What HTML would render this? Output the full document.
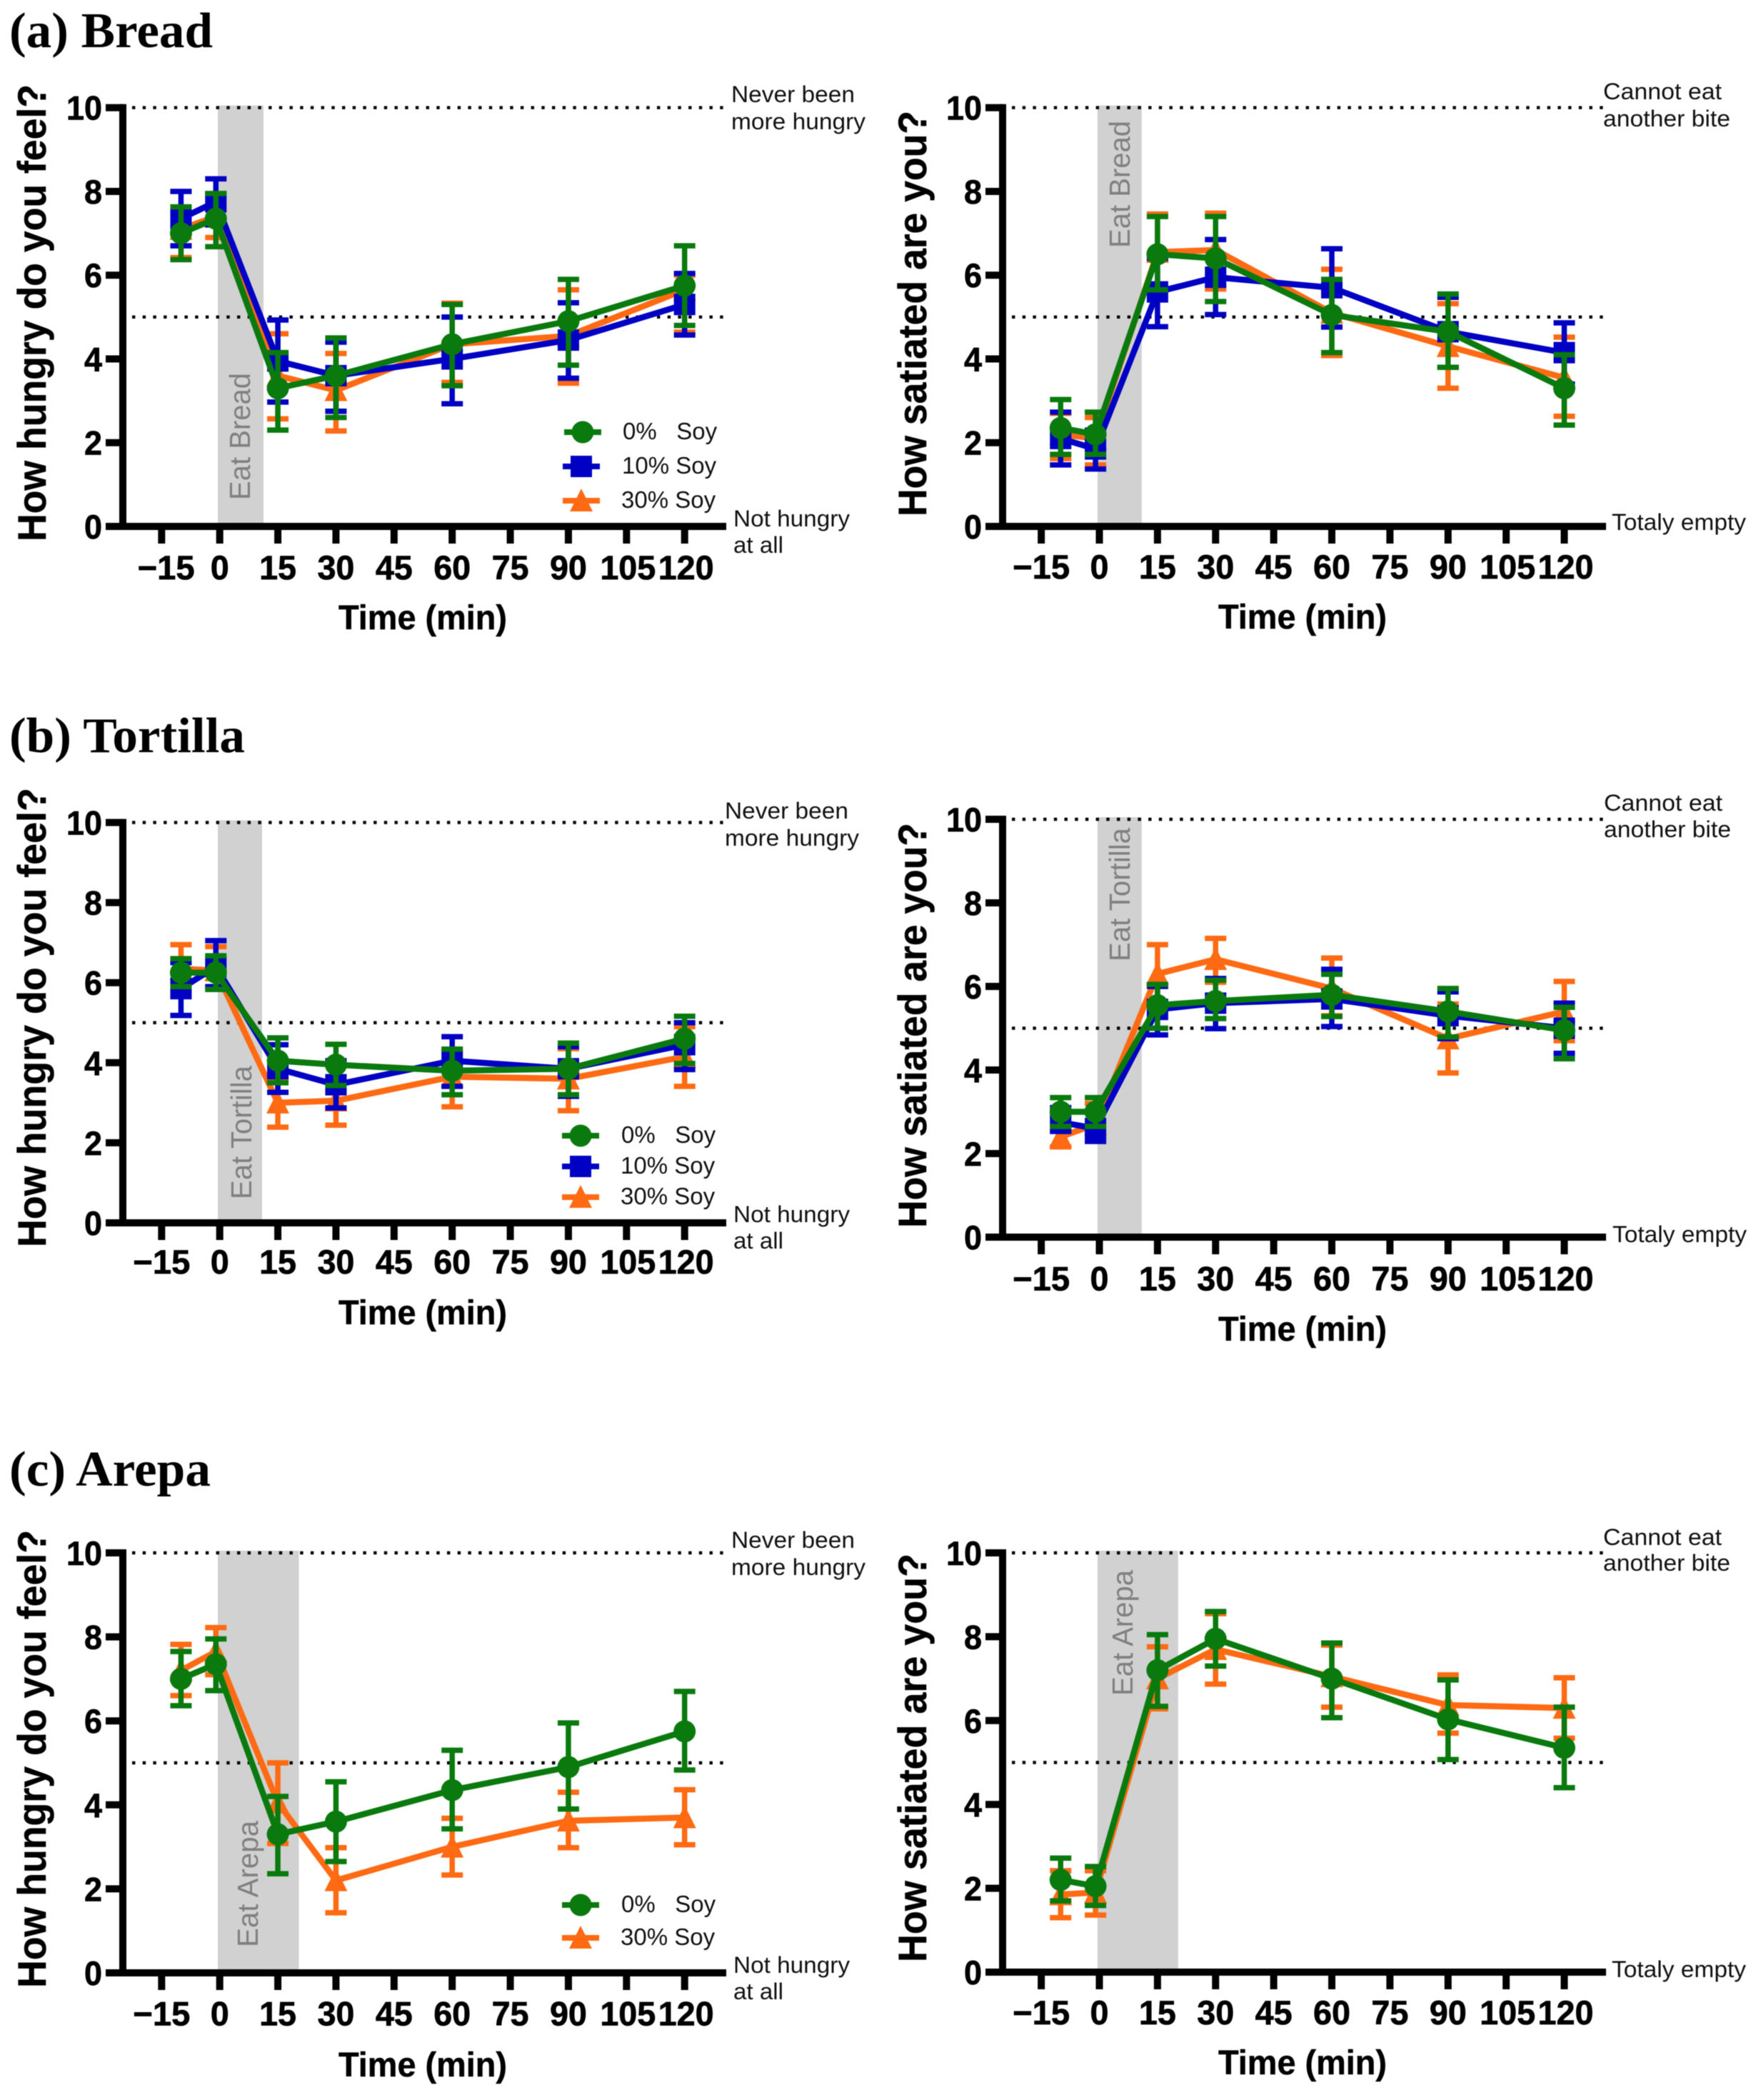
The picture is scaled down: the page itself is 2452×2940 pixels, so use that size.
<!DOCTYPE html>
<html lang="en">
<head>
<meta charset="utf-8">
<title>Hunger and satiety ratings by soy level</title>
<style>
html,body{margin:0;padding:0;background:#fff}
svg{display:block;filter:blur(0.6px)}
text{font-family:"Liberation Sans",sans-serif}
.title{font-family:"Liberation Serif",serif;font-weight:700;font-size:70px;fill:#000}
.ytitle,.xtitle{font-weight:700;font-size:56px;fill:#000;stroke:#000;stroke-width:.5px}
.xtitle{font-size:48px}
.note{font-size:32px;fill:#111}
.eat{font-size:41px;fill:#808080}
.leg{font-size:33px;fill:#111;white-space:pre}
</style>
</head>
<body>
<svg id="figure" xmlns="http://www.w3.org/2000/svg" width="2452" height="2940" viewBox="0 0 2452 2940">
<rect width="2452" height="2940" fill="#fff"/>
<text class="title" x="13" y="66" textLength="285" lengthAdjust="spacingAndGlyphs">(a) Bread</text>
<text class="title" x="13" y="1053" textLength="330" lengthAdjust="spacingAndGlyphs">(b) Tortilla</text>
<text class="title" x="13" y="2080" textLength="282" lengthAdjust="spacingAndGlyphs">(c) Arepa</text>

<g id="p-bread-hunger">
<g class="under"></g>
<text class="ytitle" transform="translate(64,758) rotate(-90)" textLength="640" lengthAdjust="spacingAndGlyphs">How hungry do you feel?</text>
<text class="xtitle" x="592" y="881" text-anchor="middle" textLength="236" lengthAdjust="spacingAndGlyphs">Time (min)</text>
<text class="note" x="1024" y="143" textLength="173" lengthAdjust="spacingAndGlyphs">Never been</text>
<text class="note" x="1024" y="181" textLength="188" lengthAdjust="spacingAndGlyphs">more hungry</text>
<text class="note" x="1027" y="737" textLength="163" lengthAdjust="spacingAndGlyphs">Not hungry</text>
<text class="note" x="1027" y="774" textLength="70" lengthAdjust="spacingAndGlyphs">at all</text>
<text class="eat" transform="translate(350,700) rotate(-90)" textLength="178" lengthAdjust="spacingAndGlyphs">Eat Bread</text>
<text class="leg" x="872" y="615">0%   Soy</text>
<text class="leg" x="871" y="663">10% Soy</text>
<text class="leg" x="870" y="711">30% Soy</text>
<g class="marks"></g>
</g>

<g id="p-bread-sat">
<g class="under"></g>
<text class="ytitle" transform="translate(1297,723) rotate(-90)" textLength="568" lengthAdjust="spacingAndGlyphs">How satiated are you?</text>
<text class="xtitle" x="1824" y="880" text-anchor="middle" textLength="236" lengthAdjust="spacingAndGlyphs">Time (min)</text>
<text class="note" x="2245" y="139" textLength="166" lengthAdjust="spacingAndGlyphs">Cannot eat</text>
<text class="note" x="2245" y="177" textLength="178" lengthAdjust="spacingAndGlyphs">another bite</text>
<text class="note" x="2257" y="742" textLength="188" lengthAdjust="spacingAndGlyphs">Totaly empty</text>
<text class="eat" transform="translate(1582,347) rotate(-90)" textLength="178" lengthAdjust="spacingAndGlyphs">Eat Bread</text>
<g class="marks"></g>
</g>

<g id="p-tortilla-hunger">
<g class="under"></g>
<text class="ytitle" transform="translate(64,1746) rotate(-90)" textLength="643" lengthAdjust="spacingAndGlyphs">How hungry do you feel?</text>
<text class="xtitle" x="592" y="1854" text-anchor="middle" textLength="236" lengthAdjust="spacingAndGlyphs">Time (min)</text>
<text class="note" x="1015" y="1146" textLength="173" lengthAdjust="spacingAndGlyphs">Never been</text>
<text class="note" x="1015" y="1184" textLength="188" lengthAdjust="spacingAndGlyphs">more hungry</text>
<text class="note" x="1027" y="1711" textLength="163" lengthAdjust="spacingAndGlyphs">Not hungry</text>
<text class="note" x="1027" y="1748" textLength="70" lengthAdjust="spacingAndGlyphs">at all</text>
<text class="eat" transform="translate(352,1679) rotate(-90)" textLength="187" lengthAdjust="spacingAndGlyphs">Eat Tortilla</text>
<text class="leg" x="870" y="1600">0%   Soy</text>
<text class="leg" x="869" y="1643">10% Soy</text>
<text class="leg" x="869" y="1686">30% Soy</text>
<g class="marks"></g>
</g>

<g id="p-tortilla-sat">
<g class="under"></g>
<text class="ytitle" transform="translate(1297,1719) rotate(-90)" textLength="567" lengthAdjust="spacingAndGlyphs">How satiated are you?</text>
<text class="xtitle" x="1824" y="1877" text-anchor="middle" textLength="236" lengthAdjust="spacingAndGlyphs">Time (min)</text>
<text class="note" x="2246" y="1135" textLength="166" lengthAdjust="spacingAndGlyphs">Cannot eat</text>
<text class="note" x="2246" y="1172" textLength="178" lengthAdjust="spacingAndGlyphs">another bite</text>
<text class="note" x="2258" y="1739" textLength="188" lengthAdjust="spacingAndGlyphs">Totaly empty</text>
<text class="eat" transform="translate(1582,1346) rotate(-90)" textLength="187" lengthAdjust="spacingAndGlyphs">Eat Tortilla</text>
<g class="marks"></g>
</g>

<g id="p-arepa-hunger">
<g class="under"></g>
<text class="ytitle" transform="translate(64,2783) rotate(-90)" textLength="641" lengthAdjust="spacingAndGlyphs">How hungry do you feel?</text>
<text class="xtitle" x="592" y="2907" text-anchor="middle" textLength="236" lengthAdjust="spacingAndGlyphs">Time (min)</text>
<text class="note" x="1024" y="2167" textLength="173" lengthAdjust="spacingAndGlyphs">Never been</text>
<text class="note" x="1024" y="2205" textLength="188" lengthAdjust="spacingAndGlyphs">more hungry</text>
<text class="note" x="1027" y="2762" textLength="163" lengthAdjust="spacingAndGlyphs">Not hungry</text>
<text class="note" x="1027" y="2799" textLength="70" lengthAdjust="spacingAndGlyphs">at all</text>
<text class="eat" transform="translate(361,2726) rotate(-90)" textLength="177" lengthAdjust="spacingAndGlyphs">Eat Arepa</text>
<text class="leg" x="870" y="2677">0%   Soy</text>
<text class="leg" x="869" y="2723">30% Soy</text>
<g class="marks"></g>
</g>

<g id="p-arepa-sat">
<g class="under"></g>
<text class="ytitle" transform="translate(1297,2747) rotate(-90)" textLength="572" lengthAdjust="spacingAndGlyphs">How satiated are you?</text>
<text class="xtitle" x="1824" y="2904" text-anchor="middle" textLength="236" lengthAdjust="spacingAndGlyphs">Time (min)</text>
<text class="note" x="2245" y="2163" textLength="166" lengthAdjust="spacingAndGlyphs">Cannot eat</text>
<text class="note" x="2245" y="2199" textLength="178" lengthAdjust="spacingAndGlyphs">another bite</text>
<text class="note" x="2257" y="2768" textLength="188" lengthAdjust="spacingAndGlyphs">Totaly empty</text>
<text class="eat" transform="translate(1586,2374) rotate(-90)" textLength="176" lengthAdjust="spacingAndGlyphs">Eat Arepa</text>
<g class="marks"></g>
</g>
</svg>

<script>
// ---------- shared axis data ----------
const timePoints = [-10, -1, 15, 30, 60, 90, 120];
const xTickValues = [-15, 0, 15, 30, 45, 60, 75, 90, 105, 120];
const xTickLabels = ['\u221215', '0', '15', '30', '45', '60', '75', '90', '105', '120'];
const yTickValues = [0, 2, 4, 6, 8, 10];
const yTickLabels = ['0', '2', '4', '6', '8', '10'];
const referenceLevels = [5, 10];

// ---------- (a) Bread, hunger ----------
const breadHunger0Mean = [7.0, 7.35, 3.3, 3.6, 4.35, 4.9, 5.75];
const breadHunger0Upper = [7.63, 7.95, 4.15, 4.5, 5.3, 5.9, 6.7];
const breadHunger0Lower = [6.37, 6.68, 2.3, 2.6, 3.36, 3.85, 4.8];
const breadHunger10Mean = [7.35, 7.75, 3.95, 3.6, 4.0, 4.45, 5.3];
const breadHunger10Upper = [8.0, 8.3, 4.93, 4.4, 5.0, 5.34, 6.04];
const breadHunger10Lower = [6.7, 7.2, 2.97, 2.75, 2.93, 3.54, 4.57];
const breadHunger30Mean = [7.1, 7.4, 3.6, 3.25, 4.35, 4.55, 5.65];
const breadHunger30Upper = [7.55, 7.9, 4.6, 4.13, 5.33, 5.65, 6.0];
const breadHunger30Lower = [6.42, 6.9, 2.57, 2.28, 3.44, 3.42, 4.64];

// ---------- (a) Bread, satiety ----------
const breadSat0Mean = [2.35, 2.2, 6.5, 6.4, 5.05, 4.65, 3.3];
const breadSat0Upper = [3.03, 2.73, 7.4, 7.4, 5.9, 5.55, 4.1];
const breadSat0Lower = [1.72, 1.72, 5.65, 5.37, 4.15, 3.8, 2.42];
const breadSat10Mean = [2.1, 1.85, 5.6, 5.95, 5.7, 4.65, 4.15];
const breadSat10Upper = [2.73, 2.3, 6.4, 6.85, 6.63, 5.47, 4.86];
const breadSat10Lower = [1.47, 1.37, 4.77, 5.06, 4.76, 3.8, 3.4];
const breadSat30Mean = [2.2, 2.1, 6.55, 6.6, 5.1, 4.3, 3.55];
const breadSat30Upper = [2.7, 2.6, 7.46, 7.48, 6.14, 5.32, 4.52];
const breadSat30Lower = [1.62, 1.47, 5.6, 5.67, 4.08, 3.3, 2.63];

// ---------- (b) Tortilla, hunger ----------
const tortillaHunger0Mean = [6.25, 6.25, 4.05, 3.95, 3.8, 3.85, 4.6];
const tortillaHunger0Upper = [6.6, 6.67, 4.62, 4.46, 4.34, 4.49, 5.16];
const tortillaHunger0Lower = [5.9, 5.83, 3.5, 3.43, 3.2, 3.2, 3.98];
const tortillaHunger10Mean = [5.85, 6.4, 3.85, 3.45, 4.05, 3.85, 4.45];
const tortillaHunger10Upper = [6.5, 7.05, 4.45, 4.05, 4.65, 4.4, 5.0];
const tortillaHunger10Lower = [5.18, 5.9, 3.26, 2.87, 3.41, 3.16, 3.83];
const tortillaHunger30Mean = [6.35, 6.3, 3.0, 3.05, 3.65, 3.6, 4.15];
const tortillaHunger30Upper = [6.95, 6.9, 3.6, 3.6, 4.3, 4.35, 4.9];
const tortillaHunger30Lower = [5.8, 5.85, 2.39, 2.44, 2.9, 2.8, 3.41];

// ---------- (b) Tortilla, satiety ----------
const tortillaSat0Mean = [3.0, 3.0, 5.55, 5.65, 5.8, 5.4, 4.95];
const tortillaSat0Upper = [3.34, 3.34, 6.05, 6.15, 6.29, 5.95, 5.5];
const tortillaSat0Lower = [2.65, 2.65, 5.0, 5.23, 5.28, 4.79, 4.27];
const tortillaSat10Mean = [2.75, 2.6, 5.45, 5.6, 5.7, 5.3, 5.0];
const tortillaSat10Upper = [3.1, 3.0, 6.0, 6.19, 6.41, 5.87, 5.6];
const tortillaSat10Lower = [2.53, 2.29, 4.84, 4.99, 5.04, 4.75, 4.4];
const tortillaSat30Mean = [2.4, 2.7, 6.3, 6.65, 5.95, 4.75, 5.4];
const tortillaSat30Upper = [2.9, 3.2, 7.0, 7.15, 6.68, 5.58, 6.12];
const tortillaSat30Lower = [2.16, 2.3, 5.6, 6.1, 5.3, 3.93, 4.7];

// ---------- (c) Arepa, hunger ----------
const arepaHunger0Mean = [7.0, 7.35, 3.3, 3.6, 4.35, 4.9, 5.75];
const arepaHunger0Upper = [7.65, 7.95, 4.2, 4.55, 5.3, 5.95, 6.7];
const arepaHunger0Lower = [6.36, 6.72, 2.36, 2.65, 3.43, 3.9, 4.83];
const arepaHunger30Mean = [7.2, 7.65, 4.05, 2.2, 3.0, 3.62, 3.7];
const arepaHunger30Upper = [7.82, 8.22, 5.0, 2.98, 3.68, 4.3, 4.36];
const arepaHunger30Lower = [6.6, 7.1, 3.08, 1.43, 2.33, 2.98, 3.05];

// ---------- (c) Arepa, satiety ----------
const arepaSat0Mean = [2.2, 2.05, 7.2, 7.95, 7.0, 6.03, 5.35];
const arepaSat0Upper = [2.72, 2.52, 8.05, 8.6, 7.85, 6.97, 6.32];
const arepaSat0Lower = [1.7, 1.59, 6.34, 7.3, 6.07, 5.07, 4.4];
const arepaSat30Mean = [1.85, 1.9, 7.0, 7.7, 7.05, 6.37, 6.3];
const arepaSat30Upper = [2.42, 2.42, 7.76, 8.55, 7.8, 7.09, 7.02];
const arepaSat30Lower = [1.3, 1.36, 6.28, 6.87, 6.32, 5.7, 5.58];

// ---------- drawing ----------
const NS = 'http://www.w3.org/2000/svg';
const GREEN = '#0a7a0f', BLUE = '#0000c4', ORANGE = '#ff6a13';

function make(parent, tag, props) {
  const el = document.createElementNS(NS, tag);
  for (const k in props) el.setAttribute(k, props[k]);
  parent.appendChild(el);
  return el;
}

function drawMarker(parent, kind, cx, cy, color) {
  let el;
  if (kind === 'circle') {
    el = make(parent, 'circle', {cx: cx, cy: cy, r: 15.5, fill: color});
  } else if (kind === 'square') {
    el = make(parent, 'rect', {x: cx - 15, y: cy - 15, width: 30, height: 30, fill: color});
  } else {
    el = make(parent, 'polygon', {points: (cx - 16) + ',' + (cy + 15) + ' ' + (cx + 16) + ',' + (cy + 15) + ' ' + cx + ',' + (cy - 17), fill: color});
  }
  
  
  return el;
}

function drawSeries(layer, s, xScale, yScale) {
  const g = make(layer, 'g', {});
  
  
  timePoints.forEach(function (t, i) {
    const x = xScale(t);
    const up = yScale(s.upper[i]);
    const lo = yScale(s.lower[i]);
    const bar = make(g, 'path', {d: 'M' + x + ' ' + up + 'V' + lo + 'M' + (x - 15) + ' ' + up + 'H' + (x + 15) + 'M' + (x - 15) + ' ' + lo + 'H' + (x + 15), fill: 'none', stroke: s.color, 'stroke-width': 7.5});
    
    
  });
  const pts = timePoints.map(function (t, i) { return xScale(t) + ',' + yScale(s.mean[i]); }).join(' ');
  const line = make(g, 'polyline', {points: pts, fill: 'none', stroke: s.color, 'stroke-width': 8.5, 'stroke-linejoin': 'round'});
  
  
  timePoints.forEach(function (t, i) {
    drawMarker(g, s.kind, xScale(t), yScale(s.mean[i]), s.color);
  });
}

function drawPanel(p) {
  const root = document.getElementById(p.id);
  const under = root.querySelector('.under');
  const marks = root.querySelector('.marks');
  const xScale = function (v) { return p.x0 + (p.x120 - p.x0) * v / 120; };
  const yScale = function (v) { return p.y0 + (p.y10 - p.y0) * v / 10; };

  const band = make(under, 'rect', {x: xScale(0) - 2.7, y: yScale(10) - 3, width: p.bandWidth, height: yScale(0) - yScale(10), fill: '#d1d1d1'});
  
  

  referenceLevels.forEach(function (lv) {
    const d = make(under, 'line', {x1: p.axisX + 13, x2: p.right - 4, y1: yScale(lv), y2: yScale(lv), stroke: '#000', 'stroke-width': 4.4, 'stroke-dasharray': '4.4 10.3'});
    
    
  });

  yTickValues.forEach(function (v, i) {
    const t = make(under, 'line', {x1: p.axisX - 24, x2: p.axisX, y1: yScale(v), y2: yScale(v), stroke: '#000', 'stroke-width': 10});
    
    
    const lb = make(under, 'text', {x: p.axisX - 29, y: yScale(v) + 17, 'text-anchor': 'end', 'font-weight': 700, 'font-size': 47, fill: '#000', stroke: '#000', 'stroke-width': 0.7, textLength: yTickLabels[i].length * 25, lengthAdjust: 'spacingAndGlyphs'});
    lb.textContent = yTickLabels[i];
    
    
  });

  xTickValues.forEach(function (v, i) {
    const x = xScale(v);
    const t = make(under, 'line', {x1: x, x2: x, y1: yScale(0), y2: yScale(0) + 24, stroke: '#000', 'stroke-width': 10});
    
    
    const str = xTickLabels[i];
    const lx = x + (v < 0 ? p.negShift : 0) + (str.length === 3 && v > 0 ? 2 : 0);
    const lb = make(under, 'text', {x: lx, y: yScale(0) + p.tickDrop, 'text-anchor': 'middle', 'font-weight': 700, 'font-size': 47, fill: '#000', stroke: '#000', 'stroke-width': 0.7, textLength: v < 0 ? 80 : str.length * 26, lengthAdjust: 'spacingAndGlyphs'});
    lb.textContent = str;
    
    
  });

  const yAxis = make(under, 'line', {x1: p.axisX, x2: p.axisX, y1: yScale(10) - 5, y2: yScale(0) + 5, stroke: '#000', 'stroke-width': 10});
  
  
  const xAxis = make(under, 'line', {x1: p.axisX - 24, x2: p.right, y1: yScale(0), y2: yScale(0), stroke: '#000', 'stroke-width': 10});
  
  

  p.series.forEach(function (s) { drawSeries(marks, s, xScale, yScale); });

  (p.legend || []).forEach(function (e) {
    const g = make(marks, 'g', {});
    
    
    make(g, 'line', {x1: e.x - 26, x2: e.x + 26, y1: e.y, y2: e.y, stroke: e.color, 'stroke-width': 8});
    drawMarker(g, e.kind, e.x, e.y, e.color);
  });
}

const s0 = function (mean, upper, lower) { return {name: '0-percent-soy', color: GREEN, kind: 'circle', mean: mean, upper: upper, lower: lower}; };
const s10 = function (mean, upper, lower) { return {name: '10-percent-soy', color: BLUE, kind: 'square', mean: mean, upper: upper, lower: lower}; };
const s30 = function (mean, upper, lower) { return {name: '30-percent-soy', color: ORANGE, kind: 'triangle', mean: mean, upper: upper, lower: lower}; };

drawPanel({id: 'p-bread-hunger', x0: 307.7, x120: 958.7, axisX: 172, right: 1017, y10: 150.7, y0: 737, bandWidth: 64, negShift: 6.3, tickDrop: 74,
  series: [s30(breadHunger30Mean, breadHunger30Upper, breadHunger30Lower), s10(breadHunger10Mean, breadHunger10Upper, breadHunger10Lower), s0(breadHunger0Mean, breadHunger0Upper, breadHunger0Lower)],
  legend: [{x: 816, y: 605, kind: 'circle', color: GREEN}, {x: 814, y: 653, kind: 'square', color: BLUE}, {x: 814, y: 701, kind: 'triangle', color: ORANGE}]});

drawPanel({id: 'p-bread-sat', x0: 1539.5, x120: 2190.5, axisX: 1404, right: 2249, y10: 150.7, y0: 737, bandWidth: 62, negShift: 0, tickDrop: 73,
  series: [s30(breadSat30Mean, breadSat30Upper, breadSat30Lower), s10(breadSat10Mean, breadSat10Upper, breadSat10Lower), s0(breadSat0Mean, breadSat0Upper, breadSat0Lower)]});

drawPanel({id: 'p-tortilla-hunger', x0: 307.7, x120: 958.7, axisX: 172, right: 1017, y10: 1151.5, y0: 1712, bandWidth: 62, negShift: 0, tickDrop: 71,
  series: [s30(tortillaHunger30Mean, tortillaHunger30Upper, tortillaHunger30Lower), s10(tortillaHunger10Mean, tortillaHunger10Upper, tortillaHunger10Lower), s0(tortillaHunger0Mean, tortillaHunger0Upper, tortillaHunger0Lower)],
  legend: [{x: 813, y: 1590, kind: 'circle', color: GREEN}, {x: 813, y: 1633, kind: 'square', color: BLUE}, {x: 813, y: 1676, kind: 'triangle', color: ORANGE}]});

drawPanel({id: 'p-tortilla-sat', x0: 1539.5, x120: 2190.5, axisX: 1404, right: 2249, y10: 1147, y0: 1732, bandWidth: 62, negShift: 0, tickDrop: 74.5,
  series: [s30(tortillaSat30Mean, tortillaSat30Upper, tortillaSat30Lower), s10(tortillaSat10Mean, tortillaSat10Upper, tortillaSat10Lower), s0(tortillaSat0Mean, tortillaSat0Upper, tortillaSat0Lower)]});

drawPanel({id: 'p-arepa-hunger', x0: 307.7, x120: 958.7, axisX: 172, right: 1017, y10: 2174, y0: 2762, bandWidth: 113.5, negShift: 0, tickDrop: 73.7,
  series: [s30(arepaHunger30Mean, arepaHunger30Upper, arepaHunger30Lower), s0(arepaHunger0Mean, arepaHunger0Upper, arepaHunger0Lower)],
  legend: [{x: 813, y: 2667, kind: 'circle', color: GREEN}, {x: 813, y: 2713, kind: 'triangle', color: ORANGE}]});

drawPanel({id: 'p-arepa-sat', x0: 1539.5, x120: 2190.5, axisX: 1404, right: 2249, y10: 2174, y0: 2761, bandWidth: 113, negShift: 0, tickDrop: 73,
  series: [s30(arepaSat30Mean, arepaSat30Upper, arepaSat30Lower), s0(arepaSat0Mean, arepaSat0Upper, arepaSat0Lower)]});
</script>
</body>
</html>
